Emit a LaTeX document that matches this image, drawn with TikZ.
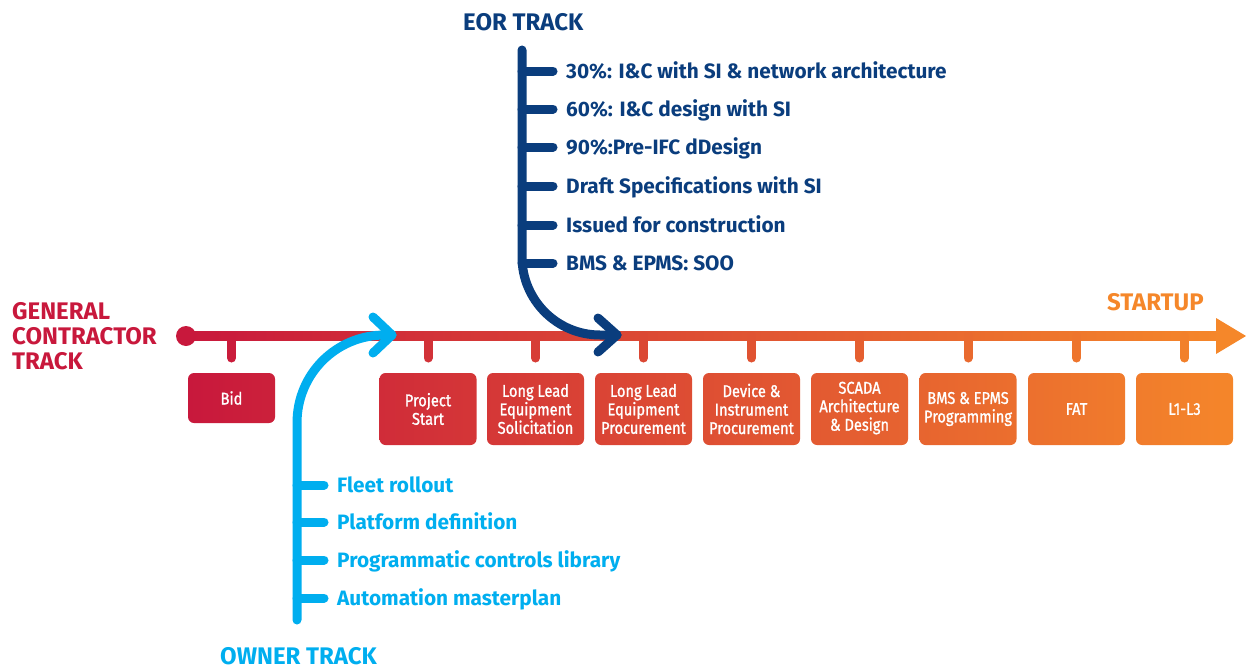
\documentclass[tikz,border=0pt]{standalone}
\usepackage{fontspec}
\setmainfont{Fira Sans}
\newfontfamily\boxfont[FakeStretch=0.86,FakeBold=1.2]{Fira Sans}
\definecolor{gc1}{HTML}{C8183C}
\definecolor{gc2}{HTML}{F5872A}
\definecolor{eorblue}{HTML}{0A3D7D}
\definecolor{ownblue}{HTML}{00AEEF}
\begin{document}
\begin{tikzpicture}[x=1pt,y=-1pt,
  gbox/.style 2 args={rectangle, rounded corners=6pt, left color=gc2!#1!gc1, right color=gc2!#2!gc1,
     draw=none, text=white, align=center, inner sep=0pt, minimum width=97pt, minimum height=72pt,
     font=\boxfont\fontsize{17}{18.5}\selectfont},
  tick/.style={line width=9pt, line cap=round, draw=gc2!#1!gc1},
  eorline/.style={line width=9pt, draw=eorblue, line cap=round, line join=round},
  ownline/.style={line width=9pt, draw=ownblue, line cap=round, line join=round},
  eorlbl/.style={anchor=base west, inner sep=0pt, text=eorblue, font=\bfseries\fontsize{20.8}{23}\selectfont},
  ownlbl/.style={anchor=base west, inner sep=0pt, text=ownblue, font=\bfseries\fontsize{20.8}{23}\selectfont},
  hdr/.style={inner sep=0pt, font=\bfseries\fontsize{24}{25}\selectfont}
]
\useasboundingbox (0,0) rectangle (1246,669);

% main timeline
\fill[left color=gc1, right color=gc2] (186,331.5) rectangle (1222,340.5);
\fill[gc2] (1216,318) -- (1246,336) -- (1216,354) -- cycle;
\fill[gc1] (186,336) circle (10pt);

% headers
\node[hdr, anchor=north west, align=left, text=gc1] (gct) at (12,302.5) {GENERAL\\CONTRACTOR\\TRACK};
\node[hdr, anchor=west, text=gc2] (startup) at (1107,302) {STARTUP};
\node[hdr, anchor=west, text=eorblue] (eort) at (463,22) {EOR TRACK};
\node[hdr, anchor=west, text=ownblue] (ownt) at (220,656.5) {OWNER TRACK};

% boxes
\node[gbox={0}{8}, minimum width=87pt, minimum height=50pt] (bid) at (231.5,398) {Bid};
\node[gbox={18}{27}] (ps) at (428,409) {Project\\Start};
\node[gbox={28}{38}] (lls) at (535.5,409) {Long Lead\\Equipment\\Solicitation};
\node[gbox={39}{48}] (llp) at (643.5,409) {Long Lead\\Equipment\\Procurement};
\node[gbox={49}{58}] (dev) at (751.5,409) {Device \&\\Instrument\\Procurement};
\node[gbox={59}{68}] (scada) at (859.5,409) {SCADA\\Architecture\\\& Design\strut};
\node[gbox={69}{78}] (bms) at (968,409) {BMS \& EPMS\\Programming};
\node[gbox={79}{89}] (fat) at (1076.5,409) {FAT};
\node[gbox={90}{99}] (l13) at (1184.5,409) {L1-L3};

% ticks
\draw[tick=4] (bid.north |- 0,336) -- (bid.north |- 0,358);
\draw[tick=23] (ps.north |- 0,336) -- (ps.north |- 0,358);
\draw[tick=33] (lls.north |- 0,336) -- (lls.north |- 0,358);
\draw[tick=43] (llp.north |- 0,336) -- (llp.north |- 0,358);
\draw[tick=53] (dev.north |- 0,336) -- (dev.north |- 0,358);
\draw[tick=64] (scada.north |- 0,336) -- (scada.north |- 0,358);
\draw[tick=74] (bms.north |- 0,336) -- (bms.north |- 0,358);
\draw[tick=84] (fat.north |- 0,336) -- (fat.north |- 0,358);
\draw[tick=94] (l13.north |- 0,336) -- (l13.north |- 0,358);

% EOR track
\draw[eorline] (522,50) -- (522,257) .. controls (522,300) and (557,335) .. (600,335) -- (617,335);
\draw[eorline] (598,318) -- (617,335) -- (598,352);
\foreach \yy in {71,109,147,186,225,263} \draw[eorline] (522,\yy) -- (553,\yy);
\node[eorlbl] (e1) at (566,78) {30\%: I\&C with SI \& network architecture};
\node[eorlbl] (e2) at (566,116) {60\%: I\&C design with SI};
\node[eorlbl] (e3) at (566,154) {90\%:Pre-IFC dDesign};
\node[eorlbl] (e4) at (566,193) {Draft Specifications with SI};
\node[eorlbl] (e5) at (566,232) {Issued for construction};
\node[eorlbl] (e6) at (566,270) {BMS \& EPMS: SOO};

% Owner track
\draw[ownline] (297,620) -- (297,423) .. controls (297,374) and (336,335) .. (385,335) -- (392,335);
\draw[ownline] (373,317) -- (392,335) -- (373,353);
\foreach \yy in {485,522,560,598} \draw[ownline] (297,\yy) -- (324,\yy);
\node[ownlbl] (o1) at (337,492) {Fleet rollout};
\node[ownlbl] (o2) at (337,529) {Platform definition};
\node[ownlbl] (o3) at (337,567) {Programmatic controls library};
\node[ownlbl] (o4) at (337,605) {Automation masterplan};
\end{tikzpicture}
\end{document}
